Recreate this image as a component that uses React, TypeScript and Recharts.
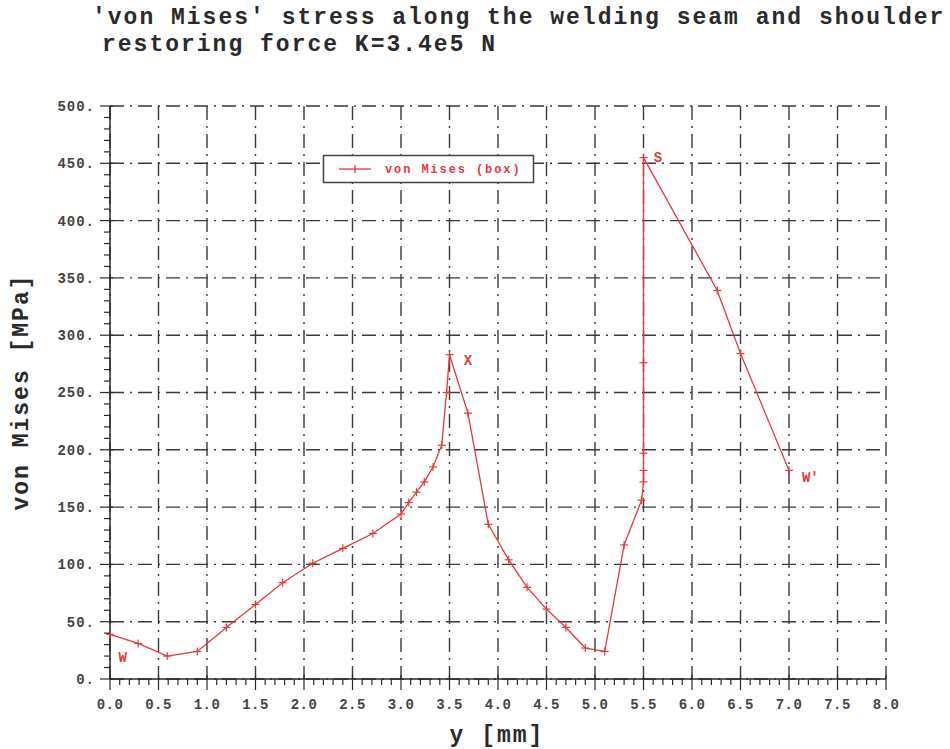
import { LineChart, Line, XAxis, YAxis, CartesianGrid, ReferenceDot } from "recharts";

// distance along the seam [mm] and von Mises stress [MPa]
const positions = [
  0, 0.29, 0.59, 0.9, 1.2, 1.5, 1.78, 2.09, 2.4, 2.71, 3.0, 3.08, 3.16, 3.24, 3.33, 3.42, 3.47, 3.5,
  3.69, 3.9, 4.11, 4.3, 4.5, 4.7, 4.9, 5.1, 5.3, 5.48, 5.5, 5.5, 5.5, 5.5, 5.5, 6.26, 6.5, 7.0,
];
const vonMises = [
  39, 31, 20, 24, 45, 65, 84, 101, 114, 127, 144, 154, 163, 172, 185, 204, 250, 283,
  232, 135, 104, 80, 61, 45, 27, 24, 117, 156, 172, 182, 197, 276, 455, 339, 284, 182,
];

// point labels drawn next to the curve
const pointNames = ["W", "X", "S", "W'"];
const pointX = [0.13, 3.69, 5.65, 7.22];
const pointY = [19, 278, 455, 176];

// tick positions (minor every 0.1 mm / 10 MPa, labelled every 0.5 mm / 50 MPa)
const xTicks = Array.from({ length: 81 }, (_, i) => i / 10);
const yTicks = Array.from({ length: 51 }, (_, i) => i * 10);
const xMajor = Array.from({ length: 17 }, (_, i) => i / 2);
const yMajor = Array.from({ length: 11 }, (_, i) => i * 50);

const title1 = "'von Mises' stress along the welding seam and shoulder";
const title2 = "restoring force K=3.4e5 N";
const seriesName = "von Mises (box)";

const RED = "#e33b3b";
const INK = "#2a2a2a";
const MONO = "'Liberation Mono', 'DejaVu Sans Mono', monospace";

const data = positions.map((p, i) => ({ y: p, vm: vonMises[i] }));

function PlusDot(props: any) {
  const { cx, cy, index } = props;
  if (cx == null || cy == null) return null;
  return (
    <g key={`d${index}`}>
      <line x1={cx - 4} x2={cx + 4} y1={cy} y2={cy} stroke={RED} strokeWidth={1.2} />
      <line x1={cx} x2={cx} y1={cy - 4} y2={cy + 4} stroke={RED} strokeWidth={1.2} />
    </g>
  );
}

function XTick(props: any) {
  const { x, y, payload } = props;
  const v = payload.value;
  const major = Math.abs(v * 2 - Math.round(v * 2)) < 1e-6;
  return (
    <g>
      <line x1={x} x2={x} y1={y - (major ? 4 : 0)} y2={y + (major ? 11 : 6)} stroke={INK} strokeWidth={1.2} />
      {major && (
        <text x={x} y={y + 30} textAnchor="middle" fontFamily={MONO} fontSize={14} fontWeight="bold" letterSpacing={0.4} fill="#444">
          {v.toFixed(1)}
        </text>
      )}
    </g>
  );
}

function YTick(props: any) {
  const { x, y, payload } = props;
  const v = payload.value;
  const major = v % 50 === 0;
  return (
    <g>
      <line x1={x - (major ? 10 : 6)} x2={x + (major ? 3 : 0)} y1={y} y2={y} stroke={INK} strokeWidth={1.2} />
      {major && (
        <text x={x - 15} y={y} dy="0.35em" textAnchor="end" fontFamily={MONO} fontSize={14} fontWeight="bold" letterSpacing={1} fill="#444">
          {`${v}.`}
        </text>
      )}
    </g>
  );
}

function PointName(props: any) {
  const { cx, cy, name } = props;
  return (
    <text x={cx} y={cy} dy="0.35em" textAnchor="middle" fontFamily={MONO} fontSize={14} fontWeight="bold" fill={RED}>
      {name}
    </text>
  );
}

export default function App() {
  const vGrid = (p: any) => {
    const s = p.xAxis?.scale;
    return xMajor.map((v) => (typeof s === "function" ? s(v) : p.offset.left + (v / 8) * p.offset.width));
  };
  const hGrid = (p: any) => {
    const s = p.yAxis?.scale;
    return yMajor.map((v) => (typeof s === "function" ? s(v) : p.offset.top + (1 - v / 500) * p.offset.height));
  };

  return (
    <div style={{ position: "absolute", left: 0, top: 0, width: 950, height: 749, background: "#fff" }}>
      <LineChart width={950} height={749} data={data} margin={{ top: 106, right: 64, bottom: 40, left: 50 }}>
        <CartesianGrid
          stroke="#3a3a3a"
          strokeWidth={1.4}
          strokeDasharray="14 6 2 6"
          verticalCoordinatesGenerator={vGrid}
          horizontalCoordinatesGenerator={hGrid}
        />
        <XAxis
          type="number"
          dataKey="y"
          domain={[0, 8]}
          ticks={xTicks}
          interval={0}
          height={30}
          tickSize={0}
          tickMargin={0}
          tickLine={false}
          tick={<XTick />}
          axisLine={{ stroke: INK, strokeWidth: 1.5 }}
        />
        <YAxis
          type="number"
          domain={[0, 500]}
          ticks={yTicks}
          interval={0}
          width={60}
          tickSize={0}
          tickMargin={0}
          tickLine={false}
          tick={<YTick />}
          axisLine={{ stroke: INK, strokeWidth: 1.5 }}
        />
        <Line
          type="linear"
          dataKey="vm"
          stroke={RED}
          strokeWidth={1.3}
          dot={<PlusDot />}
          activeDot={false}
          isAnimationActive={false}
        />
        {pointNames.map((n, i) => (
          <ReferenceDot
            key={n}
            x={pointX[i]}
            y={pointY[i]}
            r={0}
            shape={(p: any) => <PointName {...p} name={n} />}
          />
        ))}
      </LineChart>

      <svg width={950} height={749} style={{ position: "absolute", left: 0, top: 0, pointerEvents: "none" }}>
        <text x={92} y={24} fontFamily={MONO} fontSize={23} fontWeight="bold" letterSpacing={2} fill={INK}>
          {title1}
        </text>
        <text x={102} y={51} fontFamily={MONO} fontSize={23} fontWeight="bold" letterSpacing={2} fill={INK}>
          {title2}
        </text>
        <text
          x={0}
          y={0}
          transform="translate(28 392) rotate(-90)"
          textAnchor="middle"
          fontFamily={MONO}
          fontSize={23}
          fontWeight="bold"
          letterSpacing={2}
          fill={INK}
        >
          von Mises [MPa]
        </text>
        <text x={497} y={742} textAnchor="middle" fontFamily={MONO} fontSize={23} fontWeight="bold" letterSpacing={2} fill={INK}>
          y [mm]
        </text>

        {/* legend box */}
        <rect x={323.5} y={155.5} width={210} height={27} fill="#fff" stroke="#444" strokeWidth={1.5} />
        <line x1={339} x2={371} y1={169} y2={169} stroke={RED} strokeWidth={1.3} />
        <line x1={355} x2={355} y1={165} y2={173} stroke={RED} strokeWidth={1.3} />
        <text x={385} y={169} dy="0.35em" fontFamily={MONO} fontSize={12} fontWeight="bold" letterSpacing={1.9} fill={RED}>
          {seriesName}
        </text>
      </svg>
    </div>
  );
}
